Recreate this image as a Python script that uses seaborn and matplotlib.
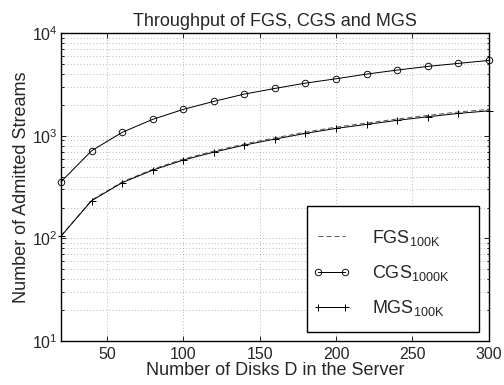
import seaborn as sns
import matplotlib.pyplot as plt
import pandas as pd
from matplotlib.patches import Rectangle
from matplotlib.ticker import LogLocator, FixedLocator, NullFormatter

# values (log scale)
disks = [20, 40, 60, 80, 100, 120, 140, 160, 180, 200, 220, 240, 260, 280, 300]
fgs_100k = [106, 236, 355, 472, 593, 710, 832, 955, 1085, 1215, 1330, 1458, 1580, 1705, 1808]
cgs_1000k = [356, 714, 1080, 1445, 1807, 2163, 2548, 2891, 3258, 3590, 3990, 4365, 4740, 5070, 5420]
mgs_100k = [105, 233, 349, 463, 580, 693, 811, 929, 1055, 1180, 1291, 1413, 1531, 1651, 1750]
x_ticks = [50, 100, 150, 200, 250, 300]

df = pd.DataFrame({'D': disks, 'FGS': fgs_100k, 'CGS': cgs_1000k, 'MGS': mgs_100k})

sns.set_style('ticks')
plt.rcParams['font.family'] = ['Liberation Sans', 'DejaVu Sans']
plt.rcParams['mathtext.default'] = 'regular'

fig = plt.figure(figsize=(7.0, 385 / 72), dpi=72)
ax = fig.add_axes([0.121, 0.114, 0.849, 0.800])

sns.lineplot(data=df, x='D', y='FGS', ax=ax, color='0.35', lw=1.0,
             linestyle=(0, (5, 3)), label=r'FGS$_{100K}$')
sns.lineplot(data=df, x='D', y='CGS', ax=ax, color='black', lw=1.0,
             marker='o', markersize=6.5, markerfacecolor='none', markeredgecolor='black',
             markeredgewidth=0.9, label=r'CGS$_{1000K}$', clip_on=False)
sns.lineplot(data=df, x='D', y='MGS', ax=ax, color='black', lw=1.0,
             marker='+', markersize=7, markeredgecolor='black', markeredgewidth=1.0,
             label=r'MGS$_{100K}$', clip_on=False)

ax.set_yscale('log')
ax.set_xlim(20, 300)
ax.set_ylim(10, 1e4)
ax.xaxis.set_major_locator(FixedLocator(x_ticks))
ax.yaxis.set_major_locator(LogLocator(base=10))
ax.yaxis.set_minor_locator(LogLocator(base=10, subs=range(2, 10)))
ax.yaxis.set_minor_formatter(NullFormatter())

grid_kw = dict(linestyle=(0, (1, 3)), color='0.6', lw=0.8)
ax.grid(True, which='major', axis='both', **grid_kw)
ax.grid(True, which='minor', axis='y', **grid_kw)

for s in ax.spines.values():
    s.set_visible(True)
    s.set_linewidth(1.4)
    s.set_color('black')
ax.tick_params(which='both', direction='in', top=True, right=True, labelsize=16, width=1.0)
ax.tick_params(which='major', length=5)
ax.tick_params(which='minor', length=2.5)
ax.tick_params(axis='x', pad=6)
ax.tick_params(axis='y', pad=3)

ax.set_title('Throughput of FGS, CGS and MGS', fontsize=18, pad=7)
ax.set_xlabel('Number of Disks D in the Server', fontsize=18)
ax.set_ylabel('Number of Admitted Streams', fontsize=18)
ax.xaxis.set_label_coords(0.5, -0.069)
ax.yaxis.set_label_coords(-0.072, 0.5)

# legend box drawn separately (wide, MATLAB-like padding)
ax.add_patch(Rectangle((0.575, 0.029), 0.402, 0.409, transform=ax.transAxes,
                       facecolor='white', edgecolor='black', lw=1.4, zorder=4))
leg = ax.legend(loc='upper left', bbox_to_anchor=(0.589, 0.368), borderaxespad=0,
                frameon=False, fontsize=18, numpoints=2, handlelength=2.05,
                handletextpad=1.2, labelspacing=0.85, borderpad=0)
leg.set_zorder(5)

fig.savefig('out.png', dpi=72)
